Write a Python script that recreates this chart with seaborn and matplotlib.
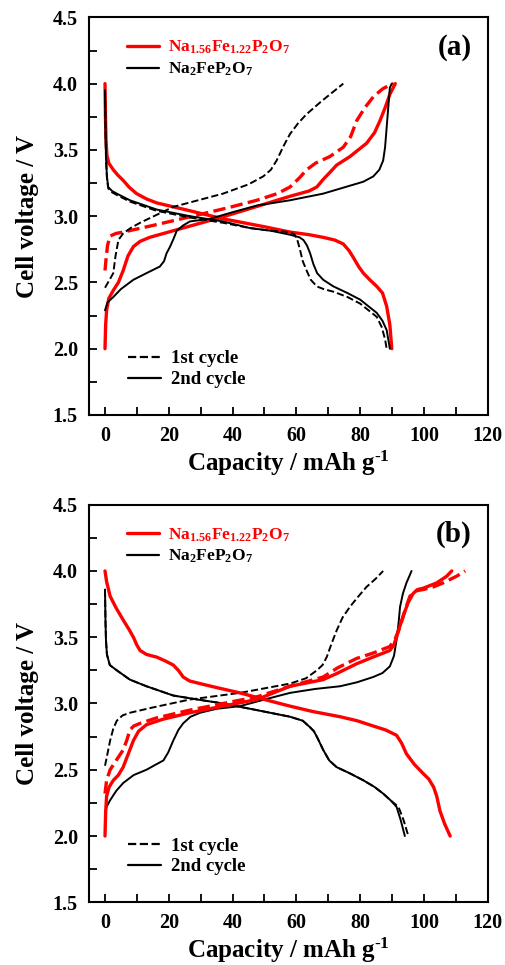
import numpy as np
import pandas as pd
import matplotlib
matplotlib.use("Agg")
import matplotlib.pyplot as plt
import seaborn as sns
from matplotlib.lines import Line2D
from matplotlib.ticker import MultipleLocator, FormatStrFormatter

# ---- panel (a) data: capacity (mAh/g), voltage (V) ----
a_red2_chg_x = [0, 0.2, 0.5, 1.2, 2.6, 4.2, 5.7, 7.2, 8.9, 11, 14, 21.4, 37, 58, 64, 66.4, 68.5, 70.5, 72.6, 76.8, 82, 84.5, 86.2, 88, 89.3, 91]
a_red2_chg_y = [2.0, 2.18, 2.29, 2.38, 2.44, 2.50, 2.59, 2.70, 2.77, 2.81, 2.84, 2.89, 2.995, 3.15, 3.19, 3.22, 3.28, 3.33, 3.385, 3.45, 3.55, 3.63, 3.72, 3.83, 3.92, 4.0]
a_red2_dis_x = [0, 0.15, 0.3, 0.6, 1.2, 2.6, 4, 5.7, 7.5, 9.9, 13, 16.2, 25, 37, 50, 58, 64, 68.4, 72, 74.7, 76.5, 77.8, 79.5, 81, 83, 85.2, 87, 88.3, 89.3, 89.9]
a_red2_dis_y = [4.0, 3.75, 3.58, 3.46, 3.40, 3.35, 3.31, 3.27, 3.22, 3.17, 3.13, 3.10, 3.05, 2.98, 2.92, 2.88, 2.86, 2.84, 2.82, 2.79, 2.74, 2.69, 2.62, 2.57, 2.52, 2.47, 2.42, 2.32, 2.18, 2.0]
a_red1_chg_x = [0, 0.3, 0.8, 1.6, 3.5, 5.7, 15, 26.6, 38, 47.6, 54, 58, 61, 63.2, 66, 70.5, 74.7, 77, 78.9, 81.5, 84.1, 87, 89.3, 90.5]
a_red1_chg_y = [2.59, 2.67, 2.78, 2.85, 2.87, 2.88, 2.93, 2.995, 3.06, 3.12, 3.17, 3.22, 3.29, 3.35, 3.40, 3.45, 3.52, 3.60, 3.72, 3.82, 3.9, 3.96, 3.99, 4.0]

a_blk2_chg_x = [0, 0.8, 2.6, 5, 8.9, 13, 17.2, 18.5, 19.3, 20.4, 21.5, 22.5, 24.5, 26.6, 32.9, 40, 47.6, 58, 68.4, 76.8, 81, 84.1, 86, 87.2, 87.8, 88.3, 88.8, 89.3, 89.9]
a_blk2_chg_y = [2.29, 2.35, 2.39, 2.45, 2.52, 2.57, 2.62, 2.66, 2.72, 2.77, 2.83, 2.89, 2.93, 2.96, 2.98, 3.03, 3.08, 3.12, 3.17, 3.23, 3.26, 3.30, 3.35, 3.42, 3.52, 3.67, 3.82, 3.97, 4.0]
a_blk2_dis_x = [0, 0.15, 0.3, 0.6, 1, 2.2, 3.7, 7.8, 16.2, 26.6, 37, 45.5, 52, 58, 61, 62.2, 63.3, 64.3, 65.3, 66.5, 68.4, 71.6, 76, 80, 85.2, 87, 88.3, 89.3]
a_blk2_dis_y = [3.95, 3.7, 3.45, 3.30, 3.22, 3.19, 3.17, 3.12, 3.05, 3.0, 2.96, 2.91, 2.89, 2.86, 2.84, 2.82, 2.78, 2.72, 2.64, 2.57, 2.52, 2.47, 2.42, 2.37, 2.27, 2.21, 2.14, 2.0]
a_blk1_chg_x = [0, 1.2, 2.6, 3.3, 4.2, 5.7, 8, 11, 21.4, 37, 45, 49.6, 52, 53.8, 56, 58, 60.5, 63.2, 68, 74.7]
a_blk1_chg_y = [2.46, 2.51, 2.57, 2.70, 2.82, 2.87, 2.91, 2.95, 3.07, 3.17, 3.24, 3.30, 3.35, 3.42, 3.53, 3.62, 3.70, 3.77, 3.87, 4.0]
a_blk1_dis_x = [0, 0.15, 0.3, 0.6, 1, 2.2, 3.7, 7.8, 16.2, 26.6, 37, 45.5, 52, 58, 59.5, 60.3, 61.1, 62, 63.2, 64.5, 66.4, 68.5, 71.6, 76, 80, 85.2, 86.8, 87.8, 88.3]
a_blk1_dis_y = [3.95, 3.7, 3.45, 3.29, 3.21, 3.18, 3.16, 3.11, 3.04, 2.99, 2.95, 2.91, 2.89, 2.88, 2.86, 2.82, 2.75, 2.66, 2.59, 2.52, 2.47, 2.45, 2.43, 2.39, 2.34, 2.24, 2.16, 2.07, 2.0]

# ---- panel (b) data ----
b_red2_chg_x = [0, 0.2, 0.5, 1.3, 2.6, 4.2, 5.7, 7.3, 8.9, 10.5, 13, 18, 26.6, 37, 47.6, 58, 68.4, 73, 78.9, 84, 89.3, 90.5, 91.4, 92.4, 93.5, 95, 96.6, 98, 99.8, 104, 107.1, 108.7]
b_red2_chg_y = [2.0, 2.18, 2.30, 2.37, 2.42, 2.46, 2.52, 2.62, 2.72, 2.79, 2.84, 2.88, 2.93, 2.98, 3.03, 3.13, 3.18, 3.23, 3.30, 3.35, 3.40, 3.44, 3.50, 3.58, 3.66, 3.76, 3.83, 3.86, 3.87, 3.91, 3.96, 4.0]
b_red2_dis_x = [0, 0.5, 1.6, 3.5, 5.7, 7.5, 8.9, 10, 11, 13, 16.2, 19, 21.4, 23, 24.5, 26.5, 29.8, 35, 42.3, 50, 58, 65, 73.7, 79, 84.1, 88, 91.4, 93, 94.5, 97, 99.8, 101.5, 103, 104, 105, 106.5, 108.2]
b_red2_dis_y = [4.0, 3.92, 3.81, 3.72, 3.63, 3.56, 3.50, 3.44, 3.40, 3.37, 3.35, 3.32, 3.29, 3.25, 3.20, 3.17, 3.15, 3.12, 3.08, 3.03, 2.98, 2.94, 2.90, 2.87, 2.83, 2.80, 2.76, 2.70, 2.62, 2.54, 2.47, 2.43, 2.37, 2.30, 2.19, 2.09, 2.0]
b_red1_chg_x = [0, 0.5, 1.6, 3.5, 5.7, 6.8, 7.8, 9, 11, 16, 26.6, 37, 47.6, 58, 68.4, 73, 78.9, 84, 89.3, 91, 92.5, 94, 95.6, 97.5, 99.8, 103, 106, 110.2, 112.9]
b_red1_chg_y = [2.32, 2.42, 2.50, 2.57, 2.65, 2.72, 2.80, 2.83, 2.85, 2.89, 2.95, 3.00, 3.05, 3.13, 3.20, 3.27, 3.34, 3.38, 3.43, 3.49, 3.58, 3.70, 3.81, 3.85, 3.86, 3.88, 3.91, 3.96, 4.0]

b_blk2_chg_x = [0, 0.5, 1.6, 3.5, 5.7, 9, 13, 16, 18.3, 19.8, 21.4, 23, 24.5, 26.8, 29.8, 35, 42.3, 50, 58, 66, 73.7, 79, 84.1, 87, 89.3, 90.6, 91.4, 92, 92.5, 93.4, 94.5, 95.4, 96.1]
b_blk2_chg_y = [2.17, 2.22, 2.27, 2.34, 2.40, 2.46, 2.50, 2.54, 2.57, 2.63, 2.72, 2.80, 2.85, 2.90, 2.93, 2.96, 2.98, 3.03, 3.08, 3.11, 3.13, 3.16, 3.20, 3.23, 3.28, 3.36, 3.48, 3.60, 3.73, 3.83, 3.91, 3.96, 4.0]
b_blk2_dis_x = [0, 0.15, 0.3, 0.6, 1.5, 3.7, 7.8, 13, 21.4, 29, 37, 47.6, 58, 62, 64.3, 65.5, 66.4, 67.4, 68.4, 70.3, 72.6, 77, 81, 84.5, 87.2, 89.5, 91.4, 92.7, 94]
b_blk2_dis_y = [3.86, 3.62, 3.48, 3.37, 3.29, 3.25, 3.18, 3.13, 3.06, 3.03, 3.0, 2.95, 2.90, 2.87, 2.82, 2.79, 2.75, 2.70, 2.65, 2.57, 2.52, 2.47, 2.42, 2.37, 2.32, 2.27, 2.22, 2.12, 2.0]
b_blk1_chg_x = [0, 0.6, 1.6, 2.6, 3.7, 5.5, 7.8, 15, 26.6, 42.3, 58, 63, 66.4, 68.2, 69.5, 71, 72.6, 74.5, 76.8, 79.5, 82, 84.8, 87.2]
b_blk1_chg_y = [2.53, 2.60, 2.72, 2.81, 2.87, 2.91, 2.93, 2.97, 3.03, 3.08, 3.15, 3.19, 3.25, 3.29, 3.35, 3.45, 3.55, 3.65, 3.73, 3.81, 3.88, 3.94, 4.0]
b_blk1_dis_x = [0, 0.15, 0.3, 0.6, 1.5, 3.7, 7.8, 13, 21.4, 29, 37, 47.6, 58, 62, 64.3, 65.5, 66.4, 67.4, 68.4, 70.3, 72.6, 77, 81, 84.5, 87.2, 89.5, 92, 93.6, 95.1]
b_blk1_dis_y = [3.86, 3.62, 3.48, 3.37, 3.29, 3.25, 3.18, 3.13, 3.06, 3.03, 3.0, 2.95, 2.90, 2.87, 2.82, 2.79, 2.75, 2.70, 2.65, 2.57, 2.52, 2.47, 2.42, 2.37, 2.32, 2.27, 2.22, 2.12, 2.0]

label_red = "Na$_{1.56}$Fe$_{1.22}$P$_2$O$_7$"
label_blk = "Na$_2$FeP$_2$O$_7$"

sns.set_style("ticks")
plt.rcParams["font.family"] = ["Liberation Serif", "DejaVu Serif"]
plt.rcParams["font.weight"] = "bold"
plt.rcParams["mathtext.fontset"] = "custom"
plt.rcParams["mathtext.rm"] = "Liberation Serif:bold"
plt.rcParams["mathtext.it"] = "Liberation Serif:bold"
plt.rcParams["mathtext.bf"] = "Liberation Serif:bold"
plt.rcParams["mathtext.default"] = "rm"
for key in ["text.color", "axes.labelcolor", "xtick.color", "ytick.color", "axes.edgecolor"]:
    plt.rcParams[key] = "black"

fig = plt.figure(figsize=(5.06, 9.65), dpi=100)
ax_a = fig.add_axes([0.176, 0.570, 0.788, 0.412])
ax_b = fig.add_axes([0.176, 0.065, 0.788, 0.412])

panels = [
    (ax_a, "(a)", [
        (a_red2_chg_x, a_red2_chg_y, "red", "-", 2.4),
        (a_red2_dis_x, a_red2_dis_y, "red", "-", 2.4),
        (a_red1_chg_x, a_red1_chg_y, "red", "--", 2.4),
        (a_blk1_chg_x, a_blk1_chg_y, "black", "--", 1.4),
        (a_blk1_dis_x, a_blk1_dis_y, "black", "--", 1.4),
        (a_blk2_chg_x, a_blk2_chg_y, "black", "-", 1.4),
        (a_blk2_dis_x, a_blk2_dis_y, "black", "-", 1.4),
    ]),
    (ax_b, "(b)", [
        (b_blk1_chg_x, b_blk1_chg_y, "black", "--", 1.4),
        (b_blk1_dis_x, b_blk1_dis_y, "black", "--", 1.4),
        (b_blk2_chg_x, b_blk2_chg_y, "black", "-", 1.4),
        (b_blk2_dis_x, b_blk2_dis_y, "black", "-", 1.4),
        (b_red1_chg_x, b_red1_chg_y, "red", "--", 2.4),
        (b_red2_chg_x, b_red2_chg_y, "red", "-", 2.4),
        (b_red2_dis_x, b_red2_dis_y, "red", "-", 2.4),
    ]),
]

for ax, tag, curves in panels:
    for xs, ys, col, ls, lw in curves:
        sns.lineplot(x=xs, y=ys, ax=ax, color=col, linestyle=ls, linewidth=lw,
                     sort=False, estimator=None)
    ax.set_xlim(-5, 120)
    ax.set_ylim(1.5, 4.5)
    ax.xaxis.set_major_locator(MultipleLocator(20))
    ax.xaxis.set_minor_locator(MultipleLocator(10))
    ax.yaxis.set_major_locator(MultipleLocator(0.5))
    ax.yaxis.set_minor_locator(MultipleLocator(0.25))
    ax.yaxis.set_major_formatter(FormatStrFormatter("%.1f"))
    ax.tick_params(which="both", direction="in", length=6, width=1.3,
                   top=False, right=False, labelsize=14.5, pad=8)
    for lab in ax.get_xticklabels() + ax.get_yticklabels():
        lab.set_fontweight("bold")
    for sp in ax.spines.values():
        sp.set_linewidth(1.5)
    ax.set_xlabel("Capacity / mAh g$^{\\text{-}1}$", fontsize=18, fontweight="bold", labelpad=2)
    ax.set_ylabel("Cell voltage / V", fontsize=18, fontweight="bold", labelpad=10)
    ax.text(0.96, 0.925, tag, transform=ax.transAxes, ha="right", va="center",
            fontsize=21, fontweight="bold")

    mat_handles = [Line2D([], [], color="red", lw=2.4), Line2D([], [], color="black", lw=1.6)]
    leg1 = ax.legend(mat_handles, [label_red, label_blk], loc="upper left",
                     bbox_to_anchor=(0.055, 0.985), frameon=False, fontsize=12.5,
                     handlelength=1.85, handletextpad=0.55, labelspacing=0.25,
                     labelcolor=["red", "black"])
    ax.add_artist(leg1)
    cyc_handles = [Line2D([], [], color="black", lw=1.6, ls="--"), Line2D([], [], color="black", lw=1.6)]
    ax.legend(cyc_handles, ["1st cycle", "2nd cycle"], loc="lower left",
              bbox_to_anchor=(0.055, 0.025), frameon=False, fontsize=13.5,
              handlelength=1.75, handletextpad=0.55, labelspacing=0.2)

fig.savefig("out.png", dpi=100)
